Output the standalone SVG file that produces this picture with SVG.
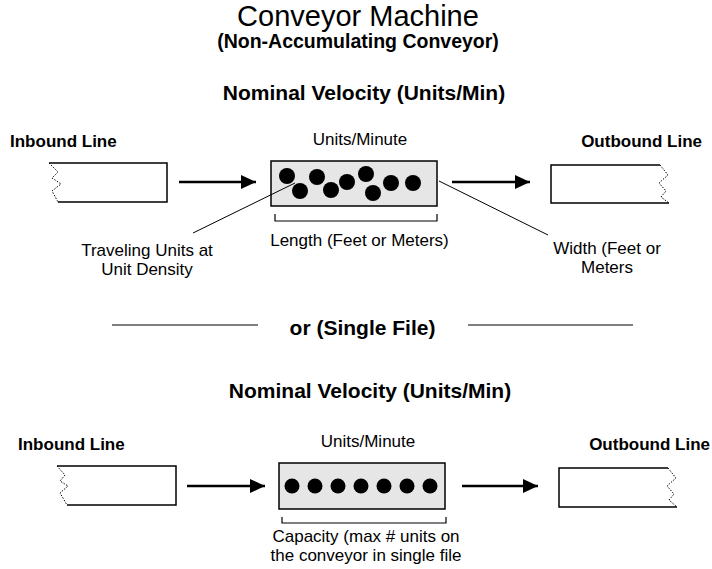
<svg xmlns="http://www.w3.org/2000/svg" width="712" height="569" viewBox="0 0 712 569">
<defs>
<style>
text{font-family:"Liberation Sans",Arial,sans-serif;fill:#000}
.b{font-weight:bold}
.lbl{font-size:17px}
.hd{font-size:21px;font-weight:bold}
.line{fill:#fff;stroke:#000;stroke-width:1.5}
.zig{fill:none;stroke:#000;stroke-width:1;stroke-dasharray:1.5 1.5}
.box{fill:#e6e6e6;stroke:#000;stroke-width:1.5}
.arr{stroke:#000;stroke-width:2.5;fill:none}
.thin{stroke:#000;stroke-width:1;fill:none}
.brk{stroke:#000;stroke-width:1.2;fill:none}
</style>
<marker id="ah" markerWidth="15" markerHeight="14" refX="15" refY="7" orient="auto" markerUnits="userSpaceOnUse">
<path d="M0,0 L15,7 L0,14 Z" fill="#000"/>
</marker>
</defs>
<g id="title">
<text x="358" y="26" font-size="29" text-anchor="middle">Conveyor Machine</text>
<text x="358" y="48" font-size="19.5" class="b" text-anchor="middle">(Non-Accumulating Conveyor)</text>
<text x="364" y="100" class="hd" text-anchor="middle">Nominal Velocity (Units/Min)</text>
</g>
<g id="inbound1">
<text x="10" y="147" class="lbl b">Inbound Line</text>
<path class="line" d="M58,202 L167,202 L167,163 L49,163" />
<path class="zig" d="M49,163 L58,172 L52,178 L61,184 L52,191 L58,202"/>
</g>
<g id="conveyor1">
<text x="360" y="145" class="lbl" text-anchor="middle">Units/Minute</text>
<rect class="box" x="271" y="161" width="166" height="45"/>
<circle cx="287" cy="176" r="8"/>
<circle cx="300" cy="191" r="8"/>
<circle cx="317" cy="177" r="8"/>
<circle cx="331" cy="190" r="8"/>
<circle cx="347" cy="182" r="8"/>
<circle cx="366" cy="174" r="8"/>
<circle cx="373" cy="193" r="8"/>
<circle cx="391" cy="183" r="8"/>
<circle cx="413" cy="183" r="8"/>
<path class="brk" d="M275,214 L275,221 L437,221 L437,214"/>
<text x="359.5" y="246" class="lbl" text-anchor="middle">Length (Feet or Meters)</text>
</g>
<g id="units-label">
<text x="147" y="256" class="lbl" text-anchor="middle">Traveling Units at</text>
<text x="147" y="275" class="lbl" text-anchor="middle">Unit Density</text>
</g>
<g id="width-label">
<text x="607" y="254" class="lbl" text-anchor="middle">Width (Feet or</text>
<text x="607" y="273" class="lbl" text-anchor="middle">Meters</text>
</g>
<g id="outbound1">
<text x="702" y="147" class="lbl b" text-anchor="end">Outbound Line</text>
<path class="line" d="M660,165 L551,165 L551,203 L669,203"/>
<path class="zig" d="M660,165 L668,175 L659,183 L666,191 L661,197 L669,203"/>
</g>
<g id="divider">
<line class="thin" x1="112" y1="325" x2="258" y2="325"/>
<line class="thin" x1="468" y1="325" x2="633" y2="325"/>
<text x="362.5" y="335" class="hd" text-anchor="middle">or (Single File)</text>
<text x="370" y="398" class="hd" text-anchor="middle">Nominal Velocity (Units/Min)</text>
</g>
<g id="inbound2">
<text x="18" y="450" class="lbl b">Inbound Line</text>
<path class="line" d="M67,505 L176,505 L176,466 L57,466"/>
<path class="zig" d="M57,466 L65,475 L60,481 L68,486 L60,493 L67,505"/>
</g>
<g id="conveyor2">
<text x="368" y="447" class="lbl" text-anchor="middle">Units/Minute</text>
<rect class="box" x="279" y="463" width="166" height="46"/>
<circle cx="292" cy="486" r="7.5"/>
<circle cx="315" cy="486" r="7.5"/>
<circle cx="338" cy="486" r="7.5"/>
<circle cx="361" cy="486" r="7.5"/>
<circle cx="384" cy="486" r="7.5"/>
<circle cx="407" cy="486" r="7.5"/>
<circle cx="430" cy="486" r="7.5"/>
<path class="brk" d="M282,517 L282,523 L446,523 L446,517"/>
<text x="366" y="542" class="lbl" text-anchor="middle">Capacity (max # units on</text>
<text x="366" y="561" class="lbl" text-anchor="middle">the conveyor in single file</text>
</g>
<g id="outbound2">
<text x="710" y="450" class="lbl b" text-anchor="end">Outbound Line</text>
<path class="line" d="M668,468 L559,468 L559,507 L677,507"/>
<path class="zig" d="M668,468 L676,478 L667,486 L674,494 L669,500 L677,507"/>
</g>
<g id="connectors">
<line class="arr" x1="179" y1="182" x2="256" y2="182" marker-end="url(#ah)"/>
<line class="arr" x1="452" y1="182" x2="530" y2="182" marker-end="url(#ah)"/>
<line class="arr" x1="187" y1="486" x2="265" y2="486" marker-end="url(#ah)"/>
<line class="arr" x1="462" y1="486" x2="538" y2="486" marker-end="url(#ah)"/>
<line class="thin" x1="193" y1="233" x2="295" y2="183"/>
<line class="thin" x1="439" y1="181" x2="548" y2="235"/>
</g>
</svg>
